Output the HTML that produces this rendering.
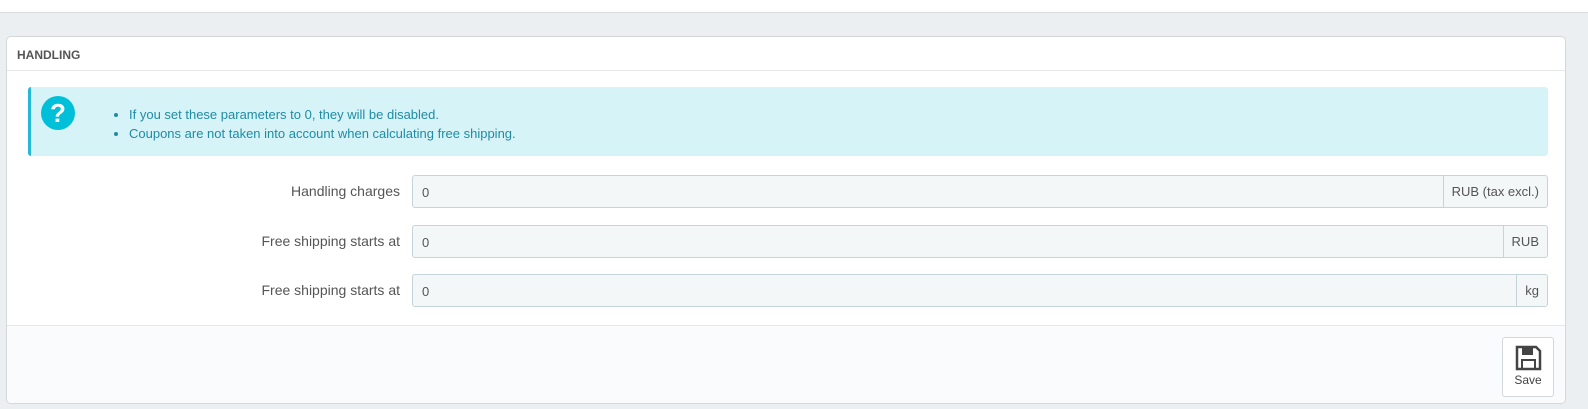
<!DOCTYPE html>
<html><head><style>
*{box-sizing:border-box;margin:0;padding:0}
body{width:1588px;height:409px;background:#eceff1;font-family:"Liberation Sans",sans-serif;position:relative;overflow:hidden;color:#555}
.top{position:absolute;left:0;top:0;width:1588px;height:13px;background:#fff;border-bottom:1px solid #d9dde0}
.panel{position:absolute;left:6px;top:36px;width:1560px;height:368px;background:#fff;border:1px solid #d3d8db;border-radius:5px;overflow:hidden}
.hd{position:absolute;left:0;top:0;width:100%;height:34px;border-bottom:1px solid #e6e9eb;font-size:12px;font-weight:bold;color:#555;padding:11px 0 0 10px;letter-spacing:0}
.alert{position:absolute;left:21px;top:50px;width:1520px;height:69px;background:#d6f3f7;border-left:3px solid #25b9d7;border-radius:3px}
.ic{position:absolute;left:10px;top:9px;width:34px;height:34px;border-radius:50%;background:#00bfd8;color:#fff;font-weight:bold;font-size:26px;text-align:center;line-height:34px}
.alert ul{position:absolute;left:98px;top:18px;color:#1f8ca5;font-size:13px;line-height:19px}
.lab{position:absolute;right:1165px;font-size:14px;color:#555;text-align:right;white-space:nowrap}
.in{position:absolute;left:405px;width:1136px;height:33px;background:#f4f7f8;border:1px solid #c6d3d8;border-radius:3px;font-size:13px;padding:9px 0 0 9px;color:#555}
.add{position:absolute;right:0;top:0;height:31px;border-left:1px solid #c6d3d8;padding:8px 8px 0 8px;font-size:13px}
.ft{position:absolute;left:0;top:288px;width:100%;height:80px;background:#fafbfc;border-top:1px solid #e6e9eb}
.save{position:absolute;left:1495px;top:11px;width:52px;height:60px;background:#fff;border:1px solid #d3d8db;border-radius:3px;text-align:center;font-size:12px;color:#444}
</style></head><body>
<div class="top"></div>
<div class="panel">
<div class="hd">HANDLING</div>
<div class="alert"><div class="ic">?</div>
<ul><li>If you set these parameters to 0, they will be disabled.</li><li>Coupons are not taken into account when calculating free shipping.</li></ul></div>
<div class="lab" style="top:146px">Handling charges</div>
<div class="in" style="top:138px">0<div class="add">RUB (tax excl.)</div></div>
<div class="lab" style="top:196px">Free shipping starts at</div>
<div class="in" style="top:188px">0<div class="add">RUB</div></div>
<div class="lab" style="top:245px">Free shipping starts at</div>
<div class="in" style="top:237px">0<div class="add">kg</div></div>
<div class="ft"><div class="save">
<svg width="28" height="28" viewBox="0 0 28 28" style="margin-top:6px"><path d="M3 3h19l4 4v18H3z" fill="none" stroke="#444" stroke-width="2.5"/><rect x="8" y="4" width="11" height="7" fill="#444"/><rect x="8" y="16" width="13" height="9" fill="none" stroke="#444" stroke-width="2"/></svg>
<div style="margin-top:-2px">Save</div></div></div>
</div>
</body></html>
